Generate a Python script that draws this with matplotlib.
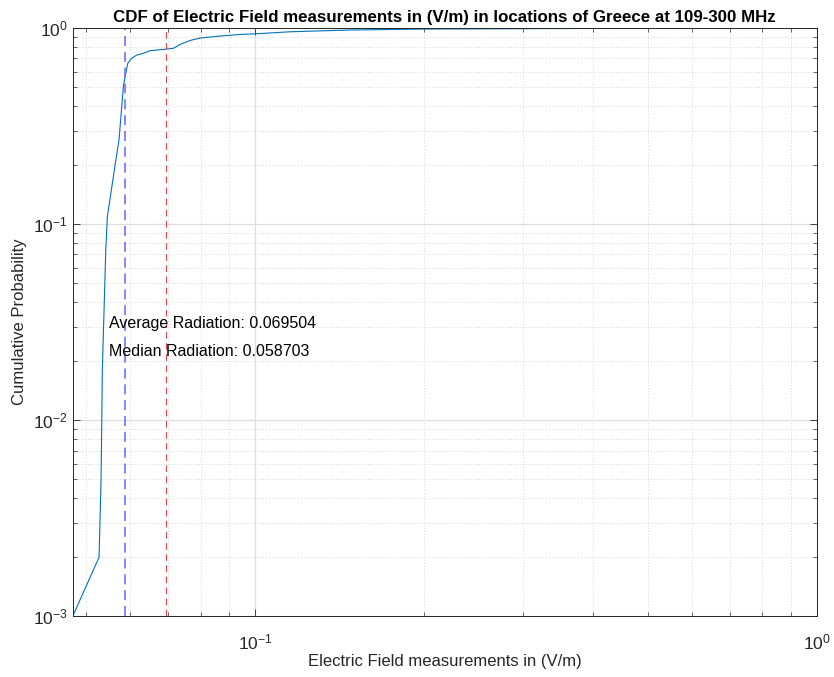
import matplotlib
matplotlib.use("Agg")
import matplotlib.pyplot as plt
from matplotlib.ticker import LogLocator, NullFormatter
import numpy as np

plt.rcParams['font.family'] = ['Liberation Sans', 'DejaVu Sans']
plt.rcParams['mathtext.fontset'] = 'custom'
plt.rcParams['mathtext.rm'] = 'Liberation Sans'

field_values = [0.04735, 0.05275, 0.05318, 0.05334, 0.05346, 0.05422, 0.05457,
                0.05633, 0.05724, 0.05789, 0.05827, 0.05885, 0.05934, 0.06031,
                0.06156, 0.06324, 0.06502, 0.06775, 0.07153, 0.07353, 0.07660,
                0.07980, 0.08663, 0.09403, 0.1021, 0.1154, 0.1476, 0.1991,
                0.3351, 0.692]
cum_prob = [0.001, 0.002, 0.00495, 0.0100, 0.0180, 0.0738, 0.109,
            0.200, 0.2685, 0.397, 0.502, 0.587, 0.661, 0.701,
            0.728, 0.743, 0.766, 0.775, 0.788, 0.824, 0.864,
            0.889, 0.910, 0.927, 0.937, 0.957, 0.977, 0.988,
            0.994, 1.0]

average_radiation = 0.069504
median_radiation = 0.058703

axis_color = '#262626'

fig = plt.figure(figsize=(8.34, 6.77), dpi=100)
ax = fig.add_axes([0.0872, 0.0897, 0.9792 - 0.0872, 0.9586 - 0.0897])

ax.plot(field_values, cum_prob, color='#0072BD', lw=0.8)
ax.axvline(median_radiation, color='#7272ff', ls=(0, (6, 3.5)), lw=1.2)
ax.axvline(average_radiation, color='#e0474c', ls=(0, (6, 4)), lw=0.8)

ax.set_xscale('log')
ax.set_yscale('log')
ax.set_xlim(0.04735, 1.0)
ax.set_ylim(0.001, 1.0)

ax.text(0.0550, 0.0313, 'Average Radiation: %.6f' % average_radiation,
        fontsize=11.5, va='center', ha='left', color='black')
ax.text(0.0550, 0.0223, 'Median Radiation: %.6f' % median_radiation,
        fontsize=11.5, va='center', ha='left', color='black')

ax.xaxis.set_major_locator(LogLocator(base=10, numticks=10))
ax.xaxis.set_minor_locator(LogLocator(base=10, subs=np.arange(2, 10), numticks=20))
ax.xaxis.set_minor_formatter(NullFormatter())
ax.yaxis.set_major_locator(LogLocator(base=10, numticks=10))
ax.yaxis.set_minor_locator(LogLocator(base=10, subs=np.arange(2, 10), numticks=20))
ax.yaxis.set_minor_formatter(NullFormatter())

ax.grid(True, which='major', color='#dedede', lw=0.9, ls='-')
ax.grid(True, which='minor', color='#d8d8d8', lw=0.7, ls=(0, (1, 2)))
ax.set_axisbelow(True)

ax.tick_params(which='both', direction='in', top=True, right=True,
               colors=axis_color, labelsize=12.5)
ax.tick_params(which='major', length=5, width=0.6)
ax.tick_params(which='minor', length=3, width=0.5)
ax.tick_params(axis='x', which='major', pad=12)
for s in ax.spines.values():
    s.set_color(axis_color)
    s.set_linewidth(0.7)

ax.set_xlabel('Electric Field measurements in (V/m)', fontsize=12, color=axis_color, labelpad=1)
ax.set_ylabel('Cumulative Probability', fontsize=12, color=axis_color)
ax.set_title('CDF of Electric Field measurements in (V/m) in locations of Greece at 109-300 MHz',
             fontsize=12.2, fontweight='bold', color='black', pad=4)

fig.savefig('out.png', dpi=100)
